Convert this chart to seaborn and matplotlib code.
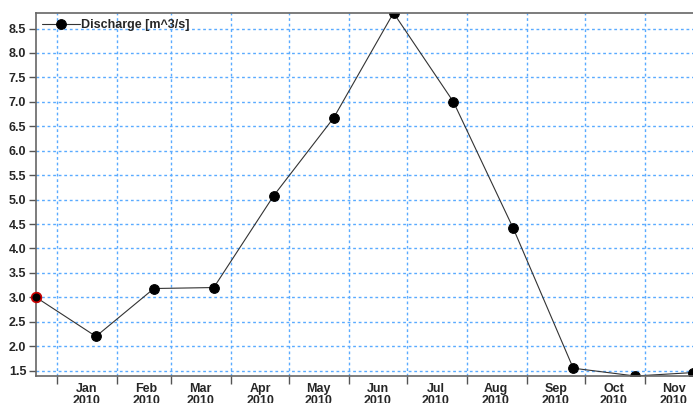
import pandas as pd
import seaborn as sns
import matplotlib.pyplot as plt
import matplotlib.dates as mdates
from matplotlib.ticker import MultipleLocator

dates = [
    "2009-12-21", "2010-01-21", "2010-02-20", "2010-03-23", "2010-04-23",
    "2010-05-24", "2010-06-24", "2010-07-25", "2010-08-25", "2010-09-25",
    "2010-10-27", "2010-11-26",
]
discharge = [3.0, 2.2, 3.18, 3.2, 5.08, 6.67, 8.82, 7.0, 4.41, 1.55, 1.39, 1.46]
label = "Discharge [m^3/s]"

df = pd.DataFrame({"date": pd.to_datetime(dates), "q": discharge})

sns.set_style("white")
plt.rcParams["font.family"] = ["Liberation Sans", "DejaVu Sans"]
plt.rcParams["font.weight"] = "bold"

fig = plt.figure(figsize=(6.93, 4.03), dpi=100)
ax = fig.add_axes([0.052, 0.067, 0.948, 0.901])

sns.lineplot(
    data=df, x="date", y="q", ax=ax, color="#333333", linewidth=0.8,
    marker="o", markersize=7, markerfacecolor="black", markeredgecolor="black",
    label=label,
)
# first point is drawn highlighted
ax.plot(df["date"].iloc[:1], df["q"].iloc[:1], "o", ms=7, mfc="black",
        mec="#cc0000", mew=1.2, zorder=5, clip_on=False)

ax.set_xlim(df["date"].min(), df["date"].max())
ax.set_ylim(min(discharge), max(discharge))

ax.xaxis.set_major_locator(mdates.MonthLocator())
ax.xaxis.set_major_formatter(plt.NullFormatter())
ax.xaxis.set_minor_locator(mdates.MonthLocator(bymonthday=16))
ax.xaxis.set_minor_formatter(mdates.DateFormatter("%b\n%Y"))
ax.tick_params(axis="x", which="major", length=6, width=1, color="#555555")
ax.tick_params(axis="x", which="minor", length=0, labelsize=9, pad=5)

ax.yaxis.set_major_locator(MultipleLocator(0.5))
ax.yaxis.set_minor_locator(MultipleLocator(0.1))
ax.yaxis.set_major_formatter(plt.FormatStrFormatter("%.1f"))
ax.tick_params(axis="y", which="major", length=5, width=1, color="#555555", labelsize=9, pad=2)
ax.tick_params(axis="y", which="minor", length=3, width=0.8, color="#555555")
ax.tick_params(axis="both", left=True, bottom=True)

for lab in ax.get_xticklabels(minor=True) + ax.get_yticklabels():
    lab.set_fontweight("bold")
    lab.set_linespacing(1.0)

ax.grid(True, which="major", color="#5aabff", linestyle=(0, (2, 2)), linewidth=1.0)
ax.set_axisbelow(True)

for side in ["left", "bottom", "top"]:
    ax.spines[side].set_color("#666666")
    ax.spines[side].set_linewidth(1.2)
ax.spines["right"].set_visible(False)

ax.set_xlabel("")
ax.set_ylabel("")
leg = ax.legend(loc="upper left", frameon=False, fontsize=9, handlelength=3,
                borderaxespad=0.1, handletextpad=0.1)
for t in leg.get_texts():
    t.set_fontweight("bold")

fig.savefig("out.png", dpi=100)
